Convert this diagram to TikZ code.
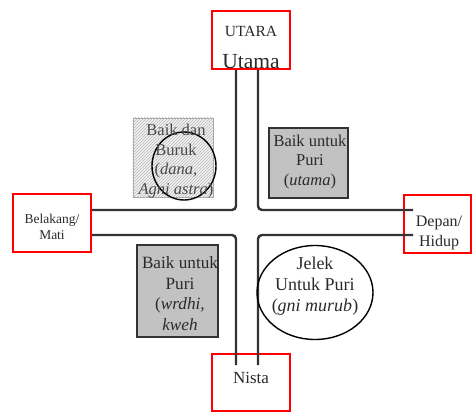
\documentclass[tikz,border=0pt]{standalone}
\usepackage{fontspec}
\setmainfont{Liberation Serif}
\usetikzlibrary{patterns,shapes.geometric}
\definecolor{roadc}{HTML}{333333}
\definecolor{boxfill}{HTML}{C2C2C2}
\definecolor{txt}{HTML}{2A2A2A}
\begin{document}
\begin{tikzpicture}[x=1pt,y=-1pt,
  redbox/.style={draw=red, line width=2.2pt, fill=white, minimum width=78pt, minimum height=58pt, inner sep=0pt},
  road/.style={draw=roadc, line width=2.4pt, rounded corners=4pt},
  graybox/.style={draw=roadc, line width=1.8pt, fill=boxfill},
  oval/.style={draw=black, line width=1.4pt, ellipse, inner sep=0pt},
  lbl/.style={text=txt, align=center, inner sep=0pt}
]
\useasboundingbox (0,0) rectangle (472,412);

% direction boxes
\node[redbox] (utara) at (251,40) {};
\node[redbox] (belakang) at (52,223) {};
\node[redbox, minimum width=67pt] (depan) at (437.5,224) {};
\node[redbox, minimum height=57pt] (nista) at (251,382.5) {};

% road corners
\coordinate (ctl) at (236,210);
\coordinate (ctr) at (258,210);
\coordinate (cbl) at (236,235);
\coordinate (cbr) at (258,235);
\coordinate (eR1) at (413,210);
\coordinate (eR2) at (413,235);
\coordinate (eB1) at (236,365);
\coordinate (eB2) at (258,365);

\draw[road] (belakang.east |- ctl) -- (ctl) -- (ctl |- utara.south);
\draw[road] (ctr |- utara.south) -- (ctr) -- (eR1);
\draw[road] (belakang.east |- cbl) -- (cbl) -- (eB1);
\draw[road] (eR2) -- (cbr) -- (eB2);

% labels of direction boxes
\node[lbl, font=\fontsize{15.5}{17}\selectfont] (tutara) at (251,31) {UTARA};
\node[lbl, font=\fontsize{21.5}{23}\selectfont, anchor=base] (tutama) at (251,68.5) {Utama};
\node[lbl, font=\fontsize{13.5}{16}\selectfont] (tbel) at (52,227) {Belakang/\\Mati};
\node[lbl, font=\fontsize{16}{19.5}\selectfont] (tdep) at (439,233) {Depan/\\Hidup};
\node[lbl, font=\fontsize{17}{19}\selectfont] (tnis) at (251,378) {Nista};

% top-left hatched box
\node[draw=gray!70, line width=0.6pt, fill=gray!10, minimum width=80pt, minimum height=79pt, inner sep=0pt] (hbox) at (173,157.5) {};
\fill[pattern=north east lines, pattern color=gray!55] (hbox.south west) rectangle (hbox.north east);
\node[oval, minimum width=64pt, minimum height=68pt] (ell) at (184,166) {};
\node[lbl, font=\fontsize{16.5}{19.5}\selectfont, text=txt!85] (thb) at (176,161) {Baik dan\\Buruk\\(\textit{dana,}\\\textit{Agni astra})};

% top-right gray box
\node[graybox, minimum width=79pt, minimum height=70pt, inner sep=0pt] (trbox) at (308.5,163) {};
\node[lbl, font=\fontsize{16.5}{19.5}\selectfont] (ttr) at (310,162) {Baik untuk\\Puri\\(\textit{utama})};

% bottom-left gray box
\node[graybox, minimum width=81pt, minimum height=92pt, inner sep=0pt] (blbox) at (177.5,291) {};
\node[lbl, font=\fontsize{17.2}{20.5}\selectfont] (tbl) at (180,293.5) {Baik untuk\\Puri\\(\textit{wrdhi,}\\\textit{kweh}};

% bottom-right circle
\node[oval, minimum width=116pt, minimum height=94pt] (circ) at (315,292.5) {};
\node[lbl, font=\fontsize{18}{21}\selectfont] (tbr) at (315,286.5) {Jelek\\Untuk Puri\\(\textit{gni murub})};
\end{tikzpicture}
\end{document}
